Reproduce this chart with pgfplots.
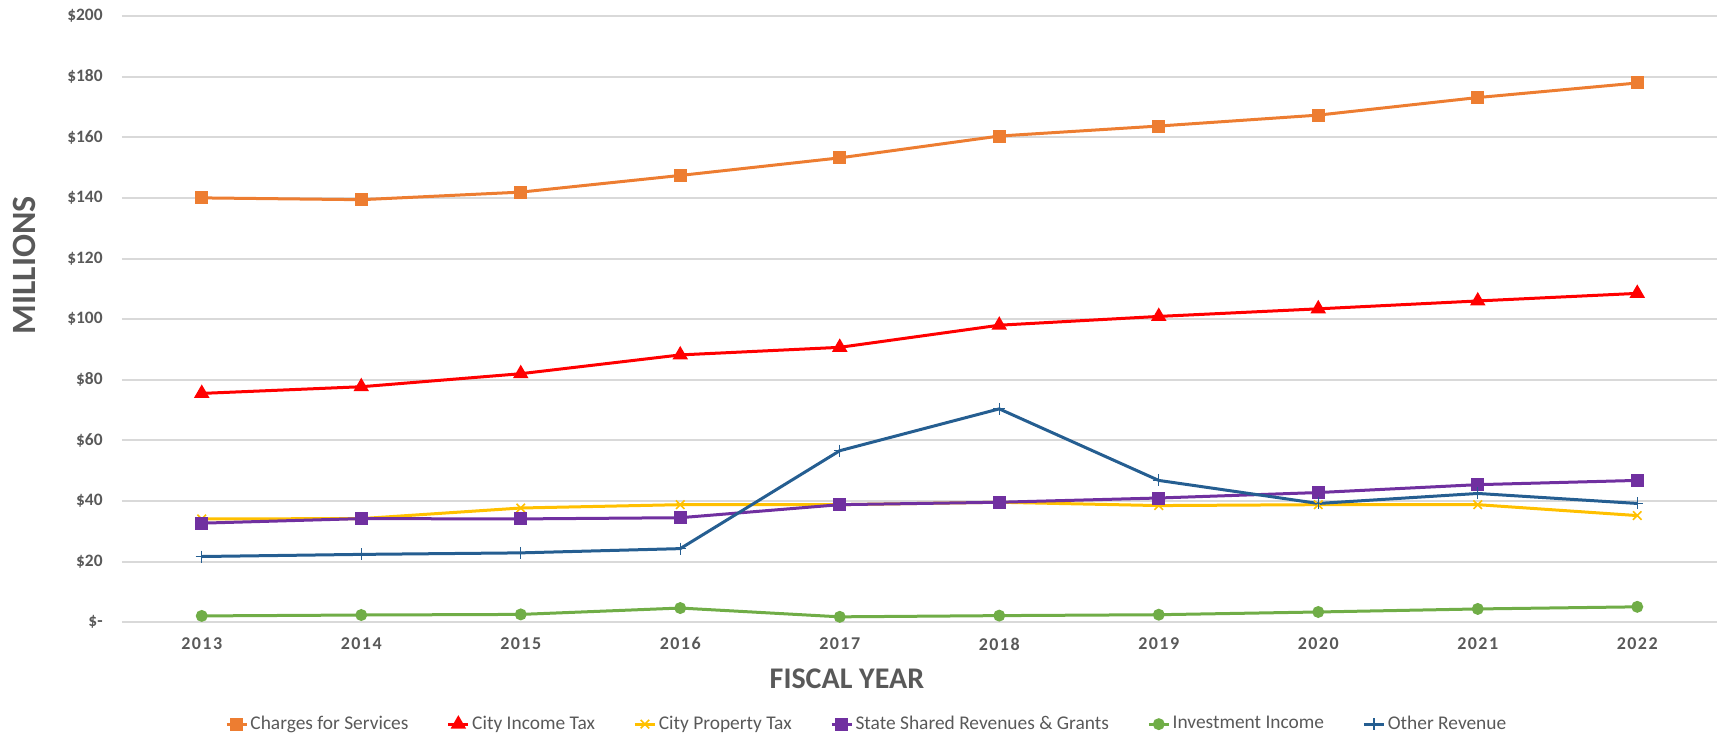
\documentclass[border=0pt]{standalone}
\usepackage{fontspec}
\setmainfont{Carlito}
\usepackage{pgfplots}
\usepackage{pgfplotstable}
\pgfplotsset{compat=1.18}
\definecolor{txt}{HTML}{595959}
\definecolor{gridc}{HTML}{D9D9D9}
\definecolor{cOrange}{HTML}{ED7D31}
\definecolor{cRed}{HTML}{FF0000}
\definecolor{cYellow}{HTML}{FFC000}
\definecolor{cPurple}{HTML}{7030A0}
\definecolor{cGreen}{HTML}{70AD47}
\definecolor{cBlue}{HTML}{255E91}
\newfontfamily\xtf[LetterSpace=8]{Carlito}

\pgfplotstableread{
year charges income prop state invest other
2013 140.0 75.5 34.1 32.7 2.1 21.7
2014 139.4 77.7 34.2 34.2 2.4 22.4
2015 141.9 82.0 37.7 34.1 2.6 22.9
2016 147.4 88.2 38.8 34.5 4.7 24.3
2017 153.2 90.7 38.8 38.8 1.8 56.6
2018 160.4 98.0 39.6 39.6 2.2 70.4
2019 163.7 100.9 38.5 41.0 2.5 46.8
2020 167.3 103.4 38.8 42.8 3.4 39.2
2021 173.1 106.0 38.8 45.4 4.4 42.5
2022 177.9 108.5 35.2 46.8 5.1 39.2
}\data

\begin{document}
\begin{tikzpicture}
\path[use as bounding box] (-61pt,-62.85pt) rectangle (798pt,311.15pt);
\begin{axis}[
  scale only axis, width=797.5pt, height=303.15pt,
  xmin=2012.5, xmax=2022.5, ymin=0, ymax=200,
  clip=false,
  xtick={2013,2014,2015,2016,2017,2018,2019,2020,2021,2022},
  xticklabels={2013,2014,2015,2016,2017,2018,2019,2020,2021,2022},
  ytick={0,20,40,60,80,100,120,140,160,180,200},
  yticklabels={\$-,\$20,\$40,\$60,\$80,\$100,\$120,\$140,\$160,\$180,\$200},
  axis line style={draw=none},
  major tick length=0pt,
  ymajorgrids,
  grid style={gridc, line width=1pt},
  yticklabel style={anchor=east, inner sep=0pt, xshift=-9.5pt, text=txt, font=\bfseries\fontsize{8.7}{10}\selectfont},
  xticklabel style={anchor=north, inner sep=0pt, yshift=-7.5pt, text=txt, font=\xtf\bfseries\fontsize{9}{10}\selectfont},
  xlabel={FISCAL YEAR},
  ylabel={MILLIONS},
  xlabel style={at={(axis description cs:0.4545,-0.0935)}, anchor=center, inner sep=0pt, text=txt, font=\bfseries\fontsize{15}{18}\selectfont},
  ylabel style={at={(axis description cs:-0.0611,0.589)}, anchor=center, inner sep=0pt, text=txt, font=\bfseries\fontsize{17}{20}\selectfont},
  legend style={at={(axis description cs:0.467,-0.168)}, anchor=center, draw=none, fill=none,
    legend columns=6, font=\fontsize{9.7}{11}\selectfont, text=txt,
    /tikz/every even column/.append style={column sep=18pt},
    nodes={inner sep=1.2pt}},
  legend cell align=left,
  legend image code/.code={\draw[mark repeat=2,mark phase=2,#1] plot coordinates {(0pt,0pt)(5pt,0pt)(10pt,0pt)};},
  every axis plot/.append style={line width=1.5pt, mark options={solid}},
]
\addplot[color=cOrange, mark=square*, mark size=2.5pt] table[x=year,y=charges]{\data};
\addlegendentry{Charges for Services}
\addplot[color=cRed, mark=triangle*, mark size=3pt] table[x=year,y=income]{\data};
\addlegendentry{City Income Tax}
\addplot[color=cYellow, mark=x, mark size=3pt, mark options={line width=0.8pt}] table[x=year,y=prop]{\data};
\addlegendentry{City Property Tax}
\addplot[color=cPurple, mark=square*, mark size=2.5pt] table[x=year,y=state]{\data};
\addlegendentry{State Shared Revenues \& Grants}
\addplot[color=cGreen, mark=*, mark size=2.2pt] table[x=year,y=invest]{\data};
\addlegendentry{Investment Income}
\addplot[color=cBlue, mark=+, mark size=3pt, mark options={line width=0.6pt}] table[x=year,y=other]{\data};
\addlegendentry{Other Revenue}
\end{axis}
\end{tikzpicture}
\end{document}
